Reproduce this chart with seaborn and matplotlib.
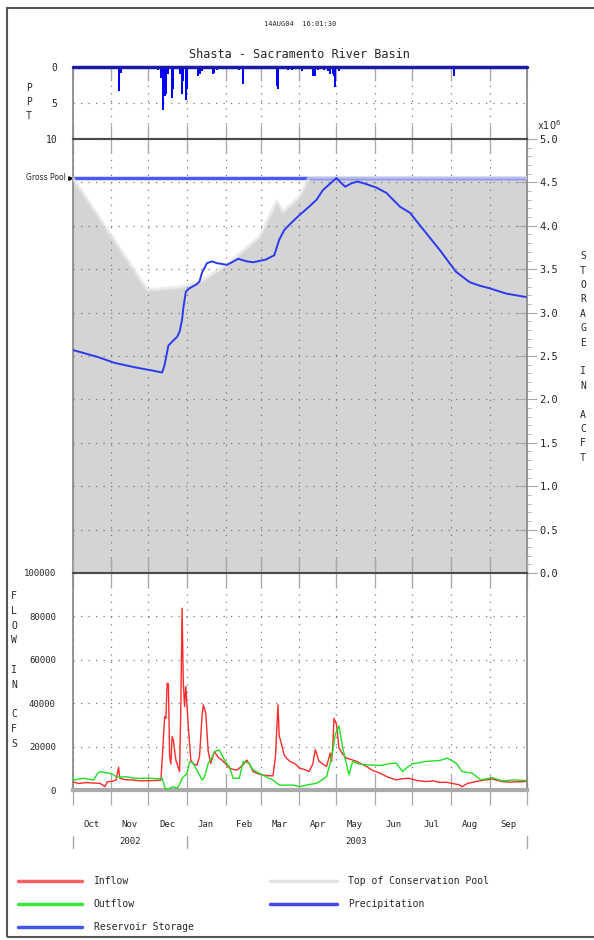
import matplotlib
matplotlib.use("Agg")
import matplotlib.pyplot as plt
import matplotlib.dates as mdates
import matplotlib.ticker as mticker
import matplotlib.transforms as mtrans
from matplotlib.lines import Line2D
from matplotlib.patches import Rectangle
import pandas as pd
import seaborn as sns

sns.set_style("white")
plt.rcParams['font.family'] = ['DejaVu Sans Mono', 'DejaVu Sans']

# water year 2003, values keyed by day of water year (0 = 1 Oct 2002)
start = pd.Timestamp("2002-10-01")
end = pd.Timestamp("2003-10-01")

# precipitation, inches
ppt_day = [37, 39, 42, 69, 71, 73, 74, 75, 77, 80, 81, 86, 88, 89, 91, 92, 101, 102, 104,
           113, 114, 116, 134, 137, 159, 164, 165, 173, 176, 184, 193, 195, 197, 202, 205,
           207, 209, 210, 211, 214, 296, 306, 327, 339]
ppt_val = [3.3, 0.9, 0.2, 0.4, 1.5, 6.0, 4.0, 3.8, 1.0, 4.3, 3.0, 1.0, 3.8, 2.0, 4.6, 3.0, 1.3, 1.0, 0.5,
           1.0, 0.8, 0.4, 0.4, 2.3, 0.3, 2.6, 3.0, 0.4, 0.4, 0.6, 1.3, 1.2, 0.4, 0.4, 0.6,
           1.0, 1.0, 1.2, 2.8, 0.5, 0.2, 1.3, 0.3, 0.2]

# reservoir storage, million acre-feet
stor_day = [0, 10, 20, 34, 50, 65, 72, 74, 77, 81, 84, 86, 88, 89, 91, 94, 100, 102, 104, 108,
            112, 116, 124, 128, 133, 140, 145, 155, 162, 166, 170, 174, 182, 190, 196, 201, 208,
            212, 216, 219, 224, 229, 236, 244, 252, 263, 271, 281, 295, 308, 319, 327, 335, 348, 364]
stor_val = [2.57, 2.53, 2.49, 2.42, 2.37, 2.33, 2.31, 2.40, 2.62, 2.68, 2.72, 2.78, 2.92, 3.05, 3.24,
            3.28, 3.33, 3.36, 3.46, 3.57, 3.59, 3.57, 3.55, 3.58, 3.62, 3.59, 3.58, 3.61, 3.66, 3.84,
            3.95, 4.01, 4.12, 4.22, 4.30, 4.41, 4.50, 4.55, 4.49, 4.45, 4.49, 4.51, 4.48, 4.44, 4.38,
            4.22, 4.15, 3.97, 3.72, 3.47, 3.35, 3.31, 3.28, 3.22, 3.18]

# top of conservation pool, million acre-feet
tcp_day = [0, 60, 86, 102, 124, 150, 164, 169, 182, 190, 365]
tcp_val = [4.552, 3.26, 3.29, 3.35, 3.55, 3.87, 4.28, 4.16, 4.33, 4.552, 4.552]

gross_pool = 4.552

# inflow, cfs
in_day = [0, 5, 11, 17, 22, 25, 26, 28, 32, 35, 37, 38, 42, 48, 55, 62, 68, 71, 72, 74, 75, 76, 77,
          78, 79, 80, 81, 83, 86, 87, 88, 89, 90, 91, 93, 95, 97, 100, 102, 104, 105, 107, 109, 111,
          114, 117, 120, 123, 126, 129, 132, 136, 140, 143, 145, 149, 153, 157, 161, 163, 165, 166,
          168, 170, 172, 175, 177, 180, 182, 186, 190, 193, 195, 198, 201, 204, 207, 208, 209, 210,
          212, 214, 217, 220, 224, 228, 232, 236, 241, 247, 253, 260, 265, 270, 277, 284, 290, 295,
          300, 305, 310, 313, 317, 324, 330, 337, 344, 351, 357, 364]
in_val = [3800, 3000, 3400, 3200, 3100, 2000, 1500, 3800, 4000, 4600, 10500, 5400, 4800, 4600, 4200,
          4300, 4400, 4600, 13800, 33800, 33000, 49200, 48900, 15400, 12000, 24600, 23000, 13800, 8500,
          38500, 83800, 49200, 38500, 47700, 29200, 13800, 12000, 11500, 15400, 33800, 39200, 35400,
          17700, 12300, 17700, 15000, 13800, 12000, 10000, 9500, 9200, 11000, 13800, 11000, 8500, 7500,
          6900, 6600, 6500, 15400, 39200, 25000, 20800, 16000, 14600, 13000, 12600, 11500, 10100, 9500,
          8500, 12000, 18600, 13200, 12000, 10900, 17000, 13200, 20000, 33000, 30200, 19400, 16500,
          14700, 14000, 13200, 12000, 10900, 9000, 7750, 6000, 4650, 5200, 5400, 4300, 3900, 4200,
          3500, 3600, 3000, 2500, 1550, 3000, 3900, 4500, 5100, 4000, 3600, 3800, 3900]

# outflow, cfs
out_day = [0, 1, 5, 9, 13, 17, 20, 22, 26, 30, 33, 35, 40, 44, 49, 55, 62, 68, 72, 74, 75, 78, 81,
           84, 86, 88, 92, 94, 97, 100, 102, 104, 106, 109, 112, 114, 118, 121, 124, 126, 129, 132,
           134, 137, 142, 145, 149, 153, 157, 161, 166, 170, 177, 182, 190, 196, 200, 204, 207, 209,
           211, 214, 217, 220, 222, 225, 230, 236, 241, 247, 253, 260, 265, 269, 273, 278, 284, 290,
           295, 301, 308, 313, 321, 328, 337, 345, 356, 364]
out_val = [6900, 4600, 5000, 5400, 5000, 4600, 7500, 8500, 8000, 7700, 7000, 6100, 6000, 6100, 5400,
           5400, 5400, 5200, 5400, 1500, 300, 800, 1500, 800, 2500, 5400, 7700, 13100, 12300, 9000,
           6900, 4600, 6000, 12300, 15000, 17700, 18500, 15000, 12000, 10800, 5400, 5400, 5400, 13100,
           12300, 9200, 8000, 6900, 5600, 4600, 2300, 2200, 2300, 1550, 2500, 3100, 4500, 6200, 12400,
           18000, 25600, 29500, 19400, 12000, 7000, 13200, 12000, 11600, 11500, 11300, 12000, 12400,
           8500, 10500, 12100, 12500, 13200, 13400, 13600, 14700, 12400, 8500, 7750, 4650, 5700, 4200,
           4650, 4300]


def to_dates(days):
    return start + pd.to_timedelta(days, unit="D")


ppt = pd.DataFrame({"date": to_dates(ppt_day), "ppt": ppt_val})
stor = pd.DataFrame({"date": to_dates(stor_day), "storage": stor_val})
tcp = pd.DataFrame({"date": to_dates(tcp_day), "tcp": tcp_val})
inflow = pd.DataFrame({"date": to_dates(in_day), "flow": in_val})
outflow = pd.DataFrame({"date": to_dates(out_day), "flow": out_val})

W, H = 594, 940
fig = plt.figure(figsize=(W / 100, H / 100), dpi=100)


def box(x0, y0, x1, y1):
    return [x0 / W, 1 - y1 / H, (x1 - x0) / W, (y1 - y0) / H]


ax_p = fig.add_axes(box(72.5, 67, 527, 139))
ax_s = fig.add_axes(box(72.5, 139, 527, 573))
ax_f = fig.add_axes(box(72.5, 573, 527, 790))

RED = '#ff2a2a'
GREEN = '#22dd22'
BLUE = '#2a3bef'
GRID = '#7a7a7a'
SPINE = '#8c8c8c'
SEP = '#4a4a4a'
TICK = '#a8a8a8'

for ax in (ax_p, ax_s, ax_f):
    ax.set_xlim(start, end)
    ax.xaxis.set_major_locator(mdates.MonthLocator())
    ax.grid(True, which='major', color=GRID, linestyle=(0, (1, 5)), lw=0.9)
    ax.tick_params(axis='x', which='major', direction='in', length=10, width=0.9,
                   color=TICK, top=True, bottom=True, labelbottom=False)
    for side in ('left', 'right'):
        ax.spines[side].set_color(SPINE)
        ax.spines[side].set_linewidth(1.3)

# ---- precipitation panel
ax_p.bar(ppt["date"], ppt["ppt"], width=1.6, color='#0000ff', lw=0)
ax_p.set_ylim(10, 0)
ax_p.axhline(0, color='#1a1aa8', lw=2.5, clip_on=False, zorder=5)
ax_p.set_yticks([0, 5, 10])
ax_p.yaxis.set_minor_locator(mticker.MultipleLocator(1))
ax_p.tick_params(axis='y', which='major', direction='inout', length=14, color=TICK,
                 labelsize=7, pad=4, right=False)
ax_p.tick_params(axis='y', which='minor', direction='out', length=3, color=TICK, right=False)
ax_p.spines['top'].set_visible(False)
ax_p.spines['bottom'].set_color(SEP)
ax_p.spines['bottom'].set_linewidth(1.5)

# ---- storage panel
ax_s.fill_between(tcp["date"], 0, tcp["tcp"], color='#d4d4d4', lw=0, zorder=0)
ax_s.plot([start, end], [gross_pool, gross_pool], color='#4a5aff', lw=2.5, zorder=2)
sns.lineplot(data=tcp, x="date", y="tcp", ax=ax_s, color='#e4e4e4', lw=2.5, alpha=0.7, zorder=3)
sns.lineplot(data=stor, x="date", y="storage", ax=ax_s, color=BLUE, lw=1.4, zorder=4)
ax_s.set_ylim(0, 5.0)
ax_s.yaxis.tick_right()
ax_s.yaxis.set_major_locator(mticker.MultipleLocator(0.5))
ax_s.yaxis.set_minor_locator(mticker.MultipleLocator(0.1))
ax_s.yaxis.set_major_formatter(mticker.FormatStrFormatter('%.1f'))
ax_s.tick_params(axis='y', which='major', direction='inout', length=14, color=TICK,
                 labelsize=7.5, pad=2, left=False)
ax_s.tick_params(axis='y', which='minor', direction='out', length=3, color=TICK, left=False)
for side in ('top', 'bottom'):
    ax_s.spines[side].set_color(SEP)
    ax_s.spines[side].set_linewidth(1.5)
ax_s.set_xlabel('')
ax_s.set_ylabel('')
bl = mtrans.blended_transform_factory(ax_s.transAxes, ax_s.transData)
ax_s.text(-0.015, gross_pool, 'Gross Pool', transform=bl, ha='right', va='center',
          fontsize=5.5, family='DejaVu Sans')
ax_s.plot([-0.006], [gross_pool], marker='>', ms=2.5, color='k', transform=bl, clip_on=False)
fig.text(537 / W, 1 - 125 / H, r'x$10^{6}$', fontsize=7, ha='left', va='center')

# ---- flow panel
sns.lineplot(data=inflow, x="date", y="flow", ax=ax_f, color=RED, lw=1.0, zorder=3)
sns.lineplot(data=outflow, x="date", y="flow", ax=ax_f, color=GREEN, lw=1.0, zorder=3)
ax_f.set_ylim(0, 100000)
ax_f.set_yticks([0, 20000, 40000, 60000, 80000, 100000])
ax_f.yaxis.set_minor_locator(mticker.MultipleLocator(10000))
ax_f.yaxis.set_major_formatter(mticker.FormatStrFormatter('%d'))
ax_f.tick_params(axis='y', which='major', direction='inout', length=14, color=TICK,
                 labelsize=6.5, pad=5, right=False)
ax_f.tick_params(axis='y', which='minor', direction='out', length=3, color=TICK, right=False)
ax_f.tick_params(axis='x', which='major', direction='inout', length=22, top=True, bottom=True)
ax_f.spines['top'].set_color(SEP)
ax_f.spines['top'].set_linewidth(1.5)
ax_f.spines['bottom'].set_color('#aaaaaa')
ax_f.spines['bottom'].set_linewidth(3)
ax_f.set_xlabel('')
ax_f.set_ylabel('')

# month names centred in each month
ax_f.xaxis.set_minor_locator(mdates.MonthLocator(bymonthday=16))
ax_f.xaxis.set_minor_formatter(mdates.DateFormatter('%b'))
ax_f.tick_params(axis='x', which='minor', length=0, pad=21.5, labelsize=6.5, labelbottom=True)

xf = mtrans.blended_transform_factory(ax_f.transData, fig.transFigure)
for d in [start, pd.Timestamp("2003-01-01"), end]:
    ax_f.add_line(Line2D([d, d], [1 - 836 / H, 1 - 848 / H], transform=xf, color=TICK,
                         lw=1, clip_on=False))
ax_f.text(pd.Timestamp("2002-11-16"), 1 - 842 / H, '2002', transform=xf, ha='center',
          va='center', fontsize=6.5)
ax_f.text(pd.Timestamp("2003-05-17"), 1 - 842 / H, '2003', transform=xf, ha='center',
          va='center', fontsize=6.5)

# stacked axis labels
fig.text(29 / W, 1 - 102 / H, "P\nP\nT", ha='center', va='center', fontsize=7, linespacing=1.45)
fig.text(14 / W, 1 - 670 / H, "F\nL\nO\nW\n\nI\nN\n\nC\nF\nS", ha='center', va='center',
         fontsize=7, linespacing=1.6)
fig.text(583 / W, 1 - 357 / H, "S\nT\nO\nR\nA\nG\nE\n\nI\nN\n\nA\nC\nF\nT", ha='center',
         va='center', fontsize=7, linespacing=1.55)

# titles
fig.text(300 / W, 1 - 24 / H, '14AUG04  16:01:30', ha='center', va='center', fontsize=5)
fig.text(299 / W, 1 - 55 / H, 'Shasta - Sacramento River Basin', ha='center', va='center',
         fontsize=8.5)

# legend drawn by hand in figure pixels
legend_items = [
    (18, 82, 94, 881, '#ff6060', 'Inflow'),
    (18, 82, 94, 904, '#3be83b', 'Outflow'),
    (18, 82, 94, 927, '#4455ee', 'Reservoir Storage'),
    (270, 337, 348, 881, '#e2e2e2', 'Top of Conservation Pool'),
    (270, 337, 348, 904, '#4848e8', 'Precipitation'),
]
for x0, x1, xt, y, col, lab in legend_items:
    fig.add_artist(Line2D([x0 / W, x1 / W], [1 - y / H, 1 - y / H], transform=fig.transFigure,
                          color=col, lw=2.5))
    fig.text(xt / W, 1 - y / H, lab, ha='left', va='center', fontsize=7)

# outer frame
fig.add_artist(Rectangle((7 / W, 1 - 937 / H), 600 / W, 929 / H, transform=fig.transFigure,
                         fill=False, edgecolor='#555555', lw=1.5))

fig.savefig("out.png", dpi=100)
